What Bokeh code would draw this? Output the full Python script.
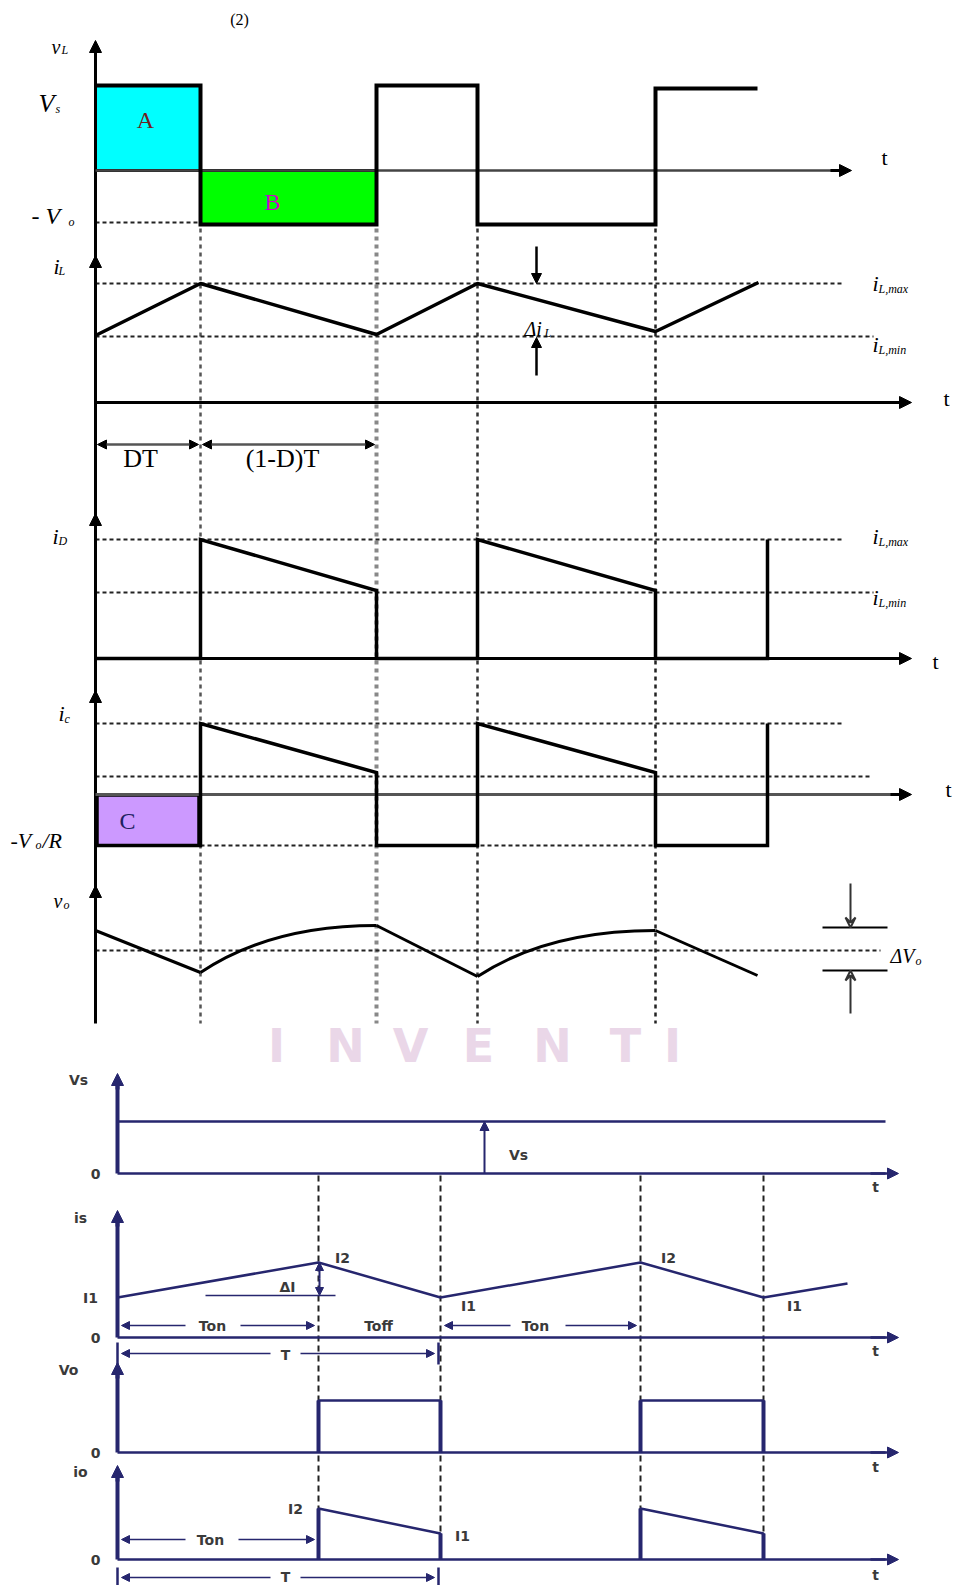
from bokeh.plotting import figure
from bokeh.models import Range1d, Arrow, NormalHead, VeeHead, ColumnDataSource
from bokeh.core.properties import value
from bokeh.embed import file_html
from bokeh.resources import INLINE

# ======================= TOP DIAGRAM (boost converter) =======================
# switching instants (time positions) and waveform breakpoints
SW_TOP = [200, 376, 477, 655]

VL_X = [95, 200, 200, 376, 376, 477, 477, 655, 655, 757]
VL_Y = [85, 85, 224, 224, 85, 85, 224, 224, 88, 88]

IL_X = [95, 200, 376, 477, 655, 758]
IL_Y = [335, 283, 334, 283, 331, 282]

ID_X = [95, 200, 200, 376, 376, 477, 477, 655, 655, 767, 767]
ID_Y = [658, 658, 539, 590, 658, 658, 539, 590, 658, 658, 539]

IC_X = [95, 200, 200, 376, 376, 477, 477, 655, 655, 767, 767]
IC_Y = [845, 845, 723, 772, 845, 845, 723, 772, 845, 845, 723]

VO_SEG_X0 = [95, 376, 655]
VO_SEG_Y0 = [930, 925, 930]
VO_SEG_X1 = [200, 477, 757]
VO_SEG_Y1 = [972, 976, 975]
VO_CRV_X0 = [200, 477]
VO_CRV_Y0 = [972, 976]
VO_CRV_X1 = [376, 655]
VO_CRV_Y1 = [925, 930]
VO_CRV_CX = [270, 547]
VO_CRV_CY = [925, 930]

# reference (dashed) levels: x0, x1, y
REF_X0 = [95, 95, 95, 95, 95, 95, 95, 95, 95]
REF_X1 = [200, 843, 873, 843, 873, 843, 870, 655, 880]
REF_Y = [222, 283, 336, 539, 592, 723, 776, 845, 950]

# ======================= BOTTOM DIAGRAM (chopper) ===========================
SW_BOT = [318, 440, 640, 763]
IS_X = [117, 318, 440, 640, 763, 847]
IS_Y = [1297, 1262, 1297, 1262, 1297, 1283]
VOB_X = [[318, 318, 440, 440], [640, 640, 763, 763]]
VOB_Y = [[1452, 1400, 1400, 1452], [1452, 1400, 1400, 1452]]
IOB_X = [[318, 318, 440, 440], [640, 640, 763, 763]]
IOB_Y = [[1559, 1508, 1533, 1559], [1559, 1508, 1533, 1559]]
BOT_ZERO_Y = [1173, 1337, 1452, 1559]
BOT_TOP_Y = [1073, 1210, 1362, 1465]

p = figure(width=964, height=1585, x_range=Range1d(0, 964), y_range=Range1d(1585, 0),
           output_backend="svg", toolbar_location=None, min_border=0,
           x_axis_location=None, y_axis_location=None)
p.xgrid.visible = False
p.ygrid.visible = False
p.outline_line_color = None
p.background_fill_color = "white"
p.border_fill_color = "white"

SERIF = "Liberation Serif"
SANS = "DejaVu Sans"
NAVY = "#26266e"


def arrows(x0, y0, x1, y1, size=11, color="black", width=2, both=False, vee=False, lcolor=None):
    src = ColumnDataSource(dict(x0=x0, y0=y0, x1=x1, y1=y1))

    def head():
        if vee:
            return VeeHead(size=size, line_color=color, line_width=2, fill_color=None)
        return NormalHead(size=size, fill_color=color, line_color=color, line_width=1)
    a = Arrow(source=src, x_start="x0", y_start="y0", x_end="x1", y_end="y1",
              end=head(), start=head() if both else None,
              line_color=lcolor or color, line_width=width)
    p.add_layout(a)


def txt(xs, ys, ts, size, font=SERIF, color="black", style="normal", align="left",
        baseline="alphabetic"):
    p.text(x=xs, y=ys, text=ts, text_font=value(font), text_font_size=value(f"{size}px"),
           text_color=color, text_font_style=style, text_align=align,
           text_baseline=baseline)


# ---- watermark ----
WM_LETTERS = ["I", "N", "V", "E", "N", "T", "I"]
WM_X = [276, 345, 410, 478, 552, 625, 672]
txt(WM_X, [1045] * 7, WM_LETTERS, 46, font=SANS, color="#ead7e8", style="bold",
    align="center", baseline="middle")

# ---- coloured areas ----
p.quad(left=[95], right=[200], top=[85], bottom=[170], fill_color="#00ffff", line_color="black", line_width=3)
p.quad(left=[200], right=[376], top=[170], bottom=[224], fill_color="#00ff00", line_color="black", line_width=3)
p.quad(left=[97], right=[198], top=[795], bottom=[845], fill_color="#cc99ff", line_color="black", line_width=2.5)

# ---- dashed verticals (top) ----
p.segment(x0=SW_TOP, y0=[228] * 4, x1=SW_TOP, y1=[1023] * 4,
          line_color=["#555", "#888", "#333", "#222"], line_width=[2.5, 4, 2.5, 2.5], line_dash="4 4")

# ---- dashed reference levels (top) ----
p.segment(x0=REF_X0, y0=REF_Y, x1=REF_X1, y1=REF_Y, line_color="#222", line_width=2, line_dash="4 3")

# ---- axes (top) ----
p.segment(x0=[95], y0=[48], x1=[95], y1=[1023], line_color="black", line_width=3)
p.segment(x0=[95, 95, 95, 95], y0=[170, 402, 658, 794], x1=[845, 905, 905, 905], y1=[170, 402, 658, 794],
          line_color=["#444", "black", "black", "#555"], line_width=[2.5, 3, 3, 3])
arrows([95] * 5, [60, 275, 533, 710, 905], [95] * 5, [40, 255, 513, 690, 885], size=12, width=3)
arrows([830, 890, 890, 890], [170, 402, 658, 794], [851, 911, 911, 911], [170, 402, 658, 794], size=12, width=3)

# ---- waveforms (top) ----
p.line(VL_X, VL_Y, line_color="black", line_width=4, line_join="miter")
p.line(IL_X, IL_Y, line_color="black", line_width=3.5)
p.line(ID_X, ID_Y, line_color="black", line_width=3.5, line_join="miter")
p.line(IC_X, IC_Y, line_color="black", line_width=3.5, line_join="miter")
p.segment(x0=VO_SEG_X0, y0=VO_SEG_Y0, x1=VO_SEG_X1, y1=VO_SEG_Y1, line_color="black", line_width=3)
p.quadratic(x0=VO_CRV_X0, y0=VO_CRV_Y0, x1=VO_CRV_X1, y1=VO_CRV_Y1, cx=VO_CRV_CX, cy=VO_CRV_CY,
            line_color="black", line_width=3)

# ---- dimension arrows (top) ----
arrows([536, 536], [246, 375], [536, 536], [283, 337], size=10, width=2.5)
arrows([97, 202], [444, 444], [198, 374], [444, 444], size=9, width=2.5, both=True, lcolor="#555")
p.segment(x0=[822, 822], y0=[927, 970], x1=[887, 887], y1=[927, 970], line_color="black", line_width=2)
arrows([850, 850], [883, 1013], [850, 850], [927, 970], size=10, width=2, vee=True, color="#333")

# ---- texts (top) ----
MAIN_T = ["v", "V", "- V", "i", "\u0394i", "i", "i", "i", "i", "i", "i", "-V", "v", "\u0394V"]
MAIN_X = [51, 38, 31, 53, 524, 872, 872, 52, 872, 872, 58, 10, 53, 890]
MAIN_Y = [46, 103, 215, 266, 328, 283, 344, 536, 536, 597, 713, 840, 900, 955]
MAIN_S = [20, 26, 24, 22, 20, 22, 22, 22, 22, 22, 22, 22, 20, 20]
SUB_T = ["L", "s", "o", "L", "L", "L,max", "L,min", "D", "L,max", "L,min", "c", "o", "o", "o"]
SUB_X = [61, 55, 68, 58, 544, 878, 878, 58, 878, 878, 64, 35, 63, 915]
SUB_Y = [49, 108, 221, 270, 332, 288, 349, 540, 541, 602, 718, 844, 904, 960]
for t, x, y, s in zip(MAIN_T, MAIN_X, MAIN_Y, MAIN_S):
    txt([x], [y], [t], s, style="italic")
txt(SUB_X, SUB_Y, SUB_T, 12, style="italic")
txt([42], [840], ["/R"], 22, style="italic")

txt([145, 272, 127], [119, 201, 820], ["A", "B", "C"], 24, color=["#702020", "#cc00cc", "#202060"],
    align="center", baseline="middle")
txt([140, 282], [458, 458], ["DT", "(1-D)T"], 26, align="center", baseline="middle")
txt([884, 946, 935, 948], [157, 398, 661, 789], ["t"] * 4, 22, align="center", baseline="middle")
txt([239], [19], ["(2)"], 16, align="center")

# ======================= BOTTOM DIAGRAM DRAWING =============================
p.segment(x0=SW_BOT, y0=[1175] * 4, x1=SW_BOT, y1=[1559] * 4, line_color="#222", line_width=2, line_dash="6 4")

p.segment(x0=[117] * 4, y0=BOT_ZERO_Y, x1=[117] * 4, y1=[y + 6 for y in BOT_TOP_Y], line_color=NAVY, line_width=4)
arrows([117] * 4, [y + 16 for y in BOT_TOP_Y], [117] * 4, BOT_TOP_Y, size=12, color=NAVY, width=4)
p.segment(x0=[117] * 4, y0=BOT_ZERO_Y, x1=[885] * 4, y1=BOT_ZERO_Y, line_color=NAVY, line_width=2.5)
arrows([870] * 4, BOT_ZERO_Y, [898] * 4, BOT_ZERO_Y, size=11, color=NAVY, width=2.5)

# Vs level
p.segment(x0=[117], y0=[1121], x1=[885], y1=[1121], line_color=NAVY, line_width=2.5)
arrows([484], [1173], [484], [1121], size=9, color=NAVY, width=2)

# is waveform
p.line(IS_X, IS_Y, line_color=NAVY, line_width=2.5)
p.segment(x0=[205], y0=[1295], x1=[335], y1=[1295], line_color=NAVY, line_width=1.5)
arrows([319], [1278], [319], [1262], size=8, color=NAVY, width=2)
arrows([319], [1278], [319], [1295], size=8, color=NAVY, width=2)

# Vo pulses
for xs, ys in zip(VOB_X, VOB_Y):
    p.line(xs, ys, line_color=NAVY, line_width=2.5)
    p.segment(x0=[xs[0], xs[3]], y0=[ys[0], ys[3]], x1=[xs[1], xs[2]], y1=[ys[1], ys[2]], line_color=NAVY, line_width=4)
# io pulses
for xs, ys in zip(IOB_X, IOB_Y):
    p.line(xs, ys, line_color=NAVY, line_width=2.5)
    p.segment(x0=[xs[0], xs[3]], y0=[ys[0], ys[3]], x1=[xs[1], xs[2]], y1=[ys[1], ys[2]], line_color=NAVY, line_width=4)

# time span arrows (Ton, T)
arrows([185, 240, 510, 565, 185, 238], [1325, 1325, 1325, 1325, 1539, 1539],
       [121, 314, 444, 636, 121, 314], [1325, 1325, 1325, 1325, 1539, 1539], size=8, color=NAVY, width=1.5)
arrows([270, 300, 270, 300], [1353, 1353, 1577, 1577], [121, 434, 121, 434], [1353, 1353, 1577, 1577],
       size=8, color=NAVY, width=1.5)
p.segment(x0=[117, 438, 117, 438], y0=[1342, 1342, 1567, 1567], x1=[117, 438, 117, 438],
          y1=[1364, 1364, 1585, 1585], line_color=NAVY, line_width=2.5)

# bottom texts
BT_T = ["Vs", "0", "Vs", "t", "is", "I1", "I2", "I2", "I1", "I1", "\u0394I", "Ton", "Ton", "Toff",
        "0", "t", "T", "Vo", "0", "t", "io", "I2", "I1", "Ton", "0", "t", "T"]
BT_X = [78, 95, 518, 875, 80, 90, 342, 668, 468, 794, 287, 212, 535, 378,
        95, 875, 285, 68, 95, 875, 80, 295, 462, 210, 95, 875, 285]
BT_Y = [1079, 1173, 1154, 1186, 1217, 1297, 1257, 1257, 1305, 1305, 1286, 1325, 1325, 1325,
        1337, 1350, 1354, 1369, 1452, 1466, 1471, 1508, 1535, 1539, 1559, 1574, 1576]
txt(BT_X, BT_Y, BT_T, 14, font=SANS, color="#3a3a3a", style="bold", align="center", baseline="middle")

open("out.html", "w").write(file_html(p, INLINE))
